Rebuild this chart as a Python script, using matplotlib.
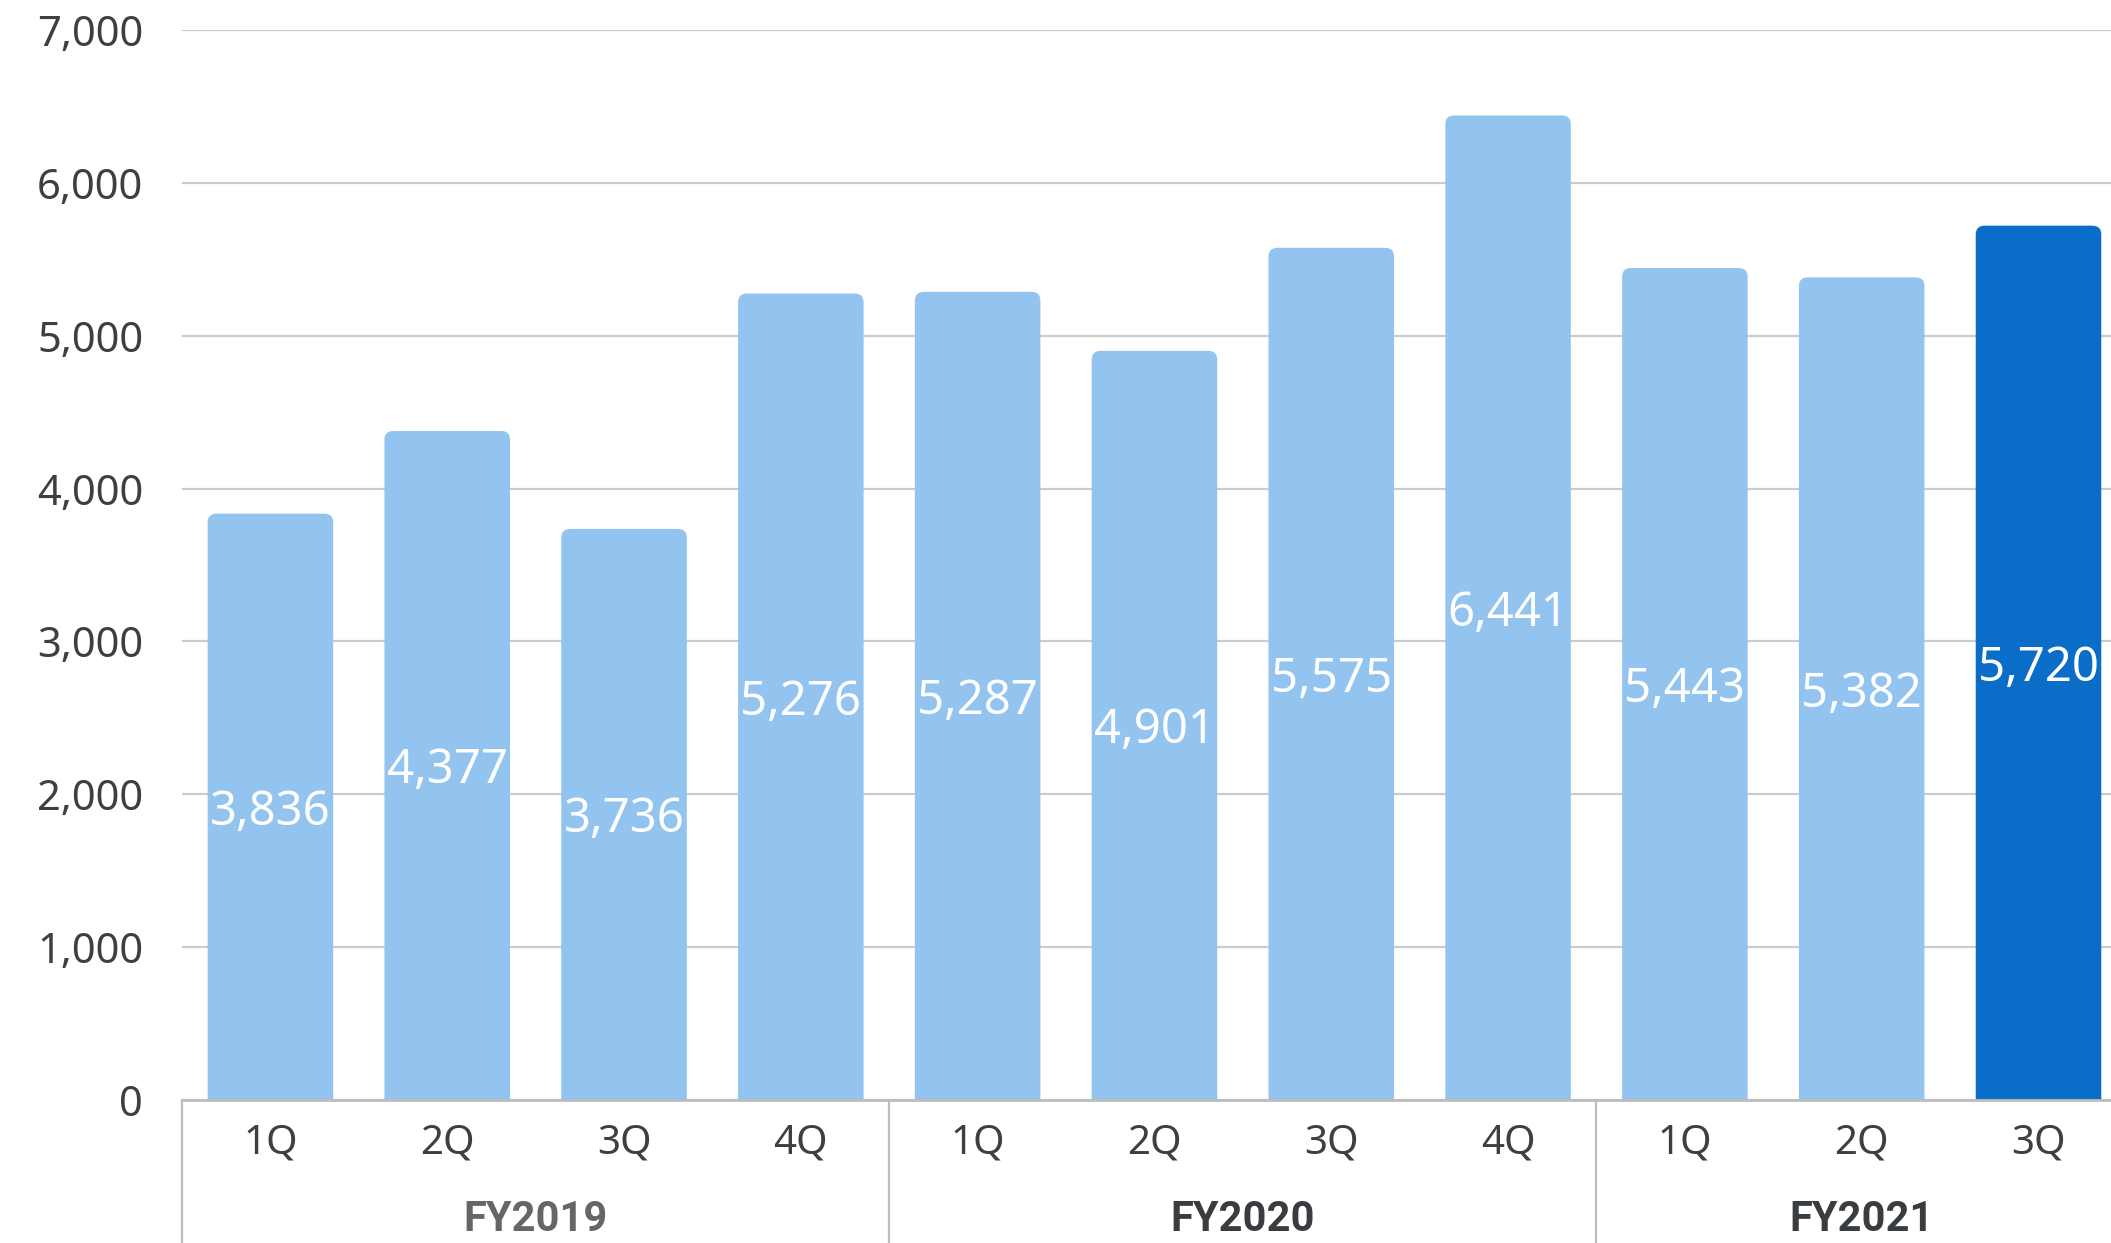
import matplotlib
matplotlib.use("Agg")
import matplotlib.pyplot as plt
from matplotlib.patches import FancyBboxPatch
from matplotlib.ticker import FuncFormatter

quarters = ['1Q', '2Q', '3Q', '4Q', '1Q', '2Q', '3Q', '4Q', '1Q', '2Q', '3Q']
values = [3836, 4377, 3736, 5276, 5287, 4901, 5575, 6441, 5443, 5382, 5720]
years = ['FY2019', 'FY2020', 'FY2021']
year_spans = [(0, 3), (4, 7), (8, 10)]
year_colors = ['#666666', '#3a3d40', '#3a3d40']

light = '#93c4ef'
dark = '#0a6ec9'
colors = [light] * 10 + [dark]

plt.rcParams['font.family'] = ['Noto Sans', 'DejaVu Sans']

fig = plt.figure(figsize=(21.11, 12.43), dpi=100)
ax = fig.add_axes([182 / 2111, 143 / 1243, 1 - 182 / 2111, 1070 / 1243])

x = list(range(len(values)))
bars = ax.bar(x, values, width=0.71, color=colors, zorder=3)

# swap plain rectangles for ones with rounded tops
for b in bars:
    bx, bw, bh = b.get_x(), b.get_width(), b.get_height()
    b.set_visible(False)
    p = FancyBboxPatch((bx, -300), bw, bh + 300,
                       boxstyle='round,pad=0,rounding_size=0.05',
                       mutation_aspect=1150, facecolor=b.get_facecolor(),
                       edgecolor='none', zorder=3)
    ax.add_patch(p)

for xi, v in zip(x, values):
    ax.text(xi, v / 2, f'{v:,}', ha='center', va='center_baseline', color='white',
            fontsize=34, zorder=4)

ax.set_xlim(-0.5, 10.41)
ax.set_ylim(0, 7000)
ax.set_yticks(range(0, 7001, 1000))
ax.yaxis.set_major_formatter(FuncFormatter(lambda v, p: f'{int(v):,}'))
ax.tick_params(axis='y', length=0, pad=28, labelsize=30, labelcolor='#3c4043')
ax.set_xticks([])
ax.grid(axis='y', color='#cccccc', linewidth=1.6, zorder=0)
for s in ['top', 'right', 'left']:
    ax.spines[s].set_visible(False)
ax.spines['bottom'].set_color('#bdbdbd')
ax.spines['bottom'].set_linewidth(2)
ax.spines['bottom'].set_zorder(5)

trans = ax.get_xaxis_transform()
for xi, q in zip(x, quarters):
    ax.text(xi, -0.041, q, transform=trans, ha='center', va='center',
            fontsize=29, color='#3c4043')

for (a, b), name, c in zip(year_spans, years, year_colors):
    ax.text((a + b) / 2, -0.112, name, transform=trans, ha='center', va='center',
            fontsize=30, fontweight='bold', color=c,
            family=['Liberation Sans Narrow', 'Roboto', 'DejaVu Sans'])

for xd in [-0.5, 3.5, 7.5]:
    ax.plot([xd, xd], [0, -0.14], transform=trans, color='#bdbdbd',
            linewidth=1.6, clip_on=False)

fig.savefig('out.png', dpi=100)
